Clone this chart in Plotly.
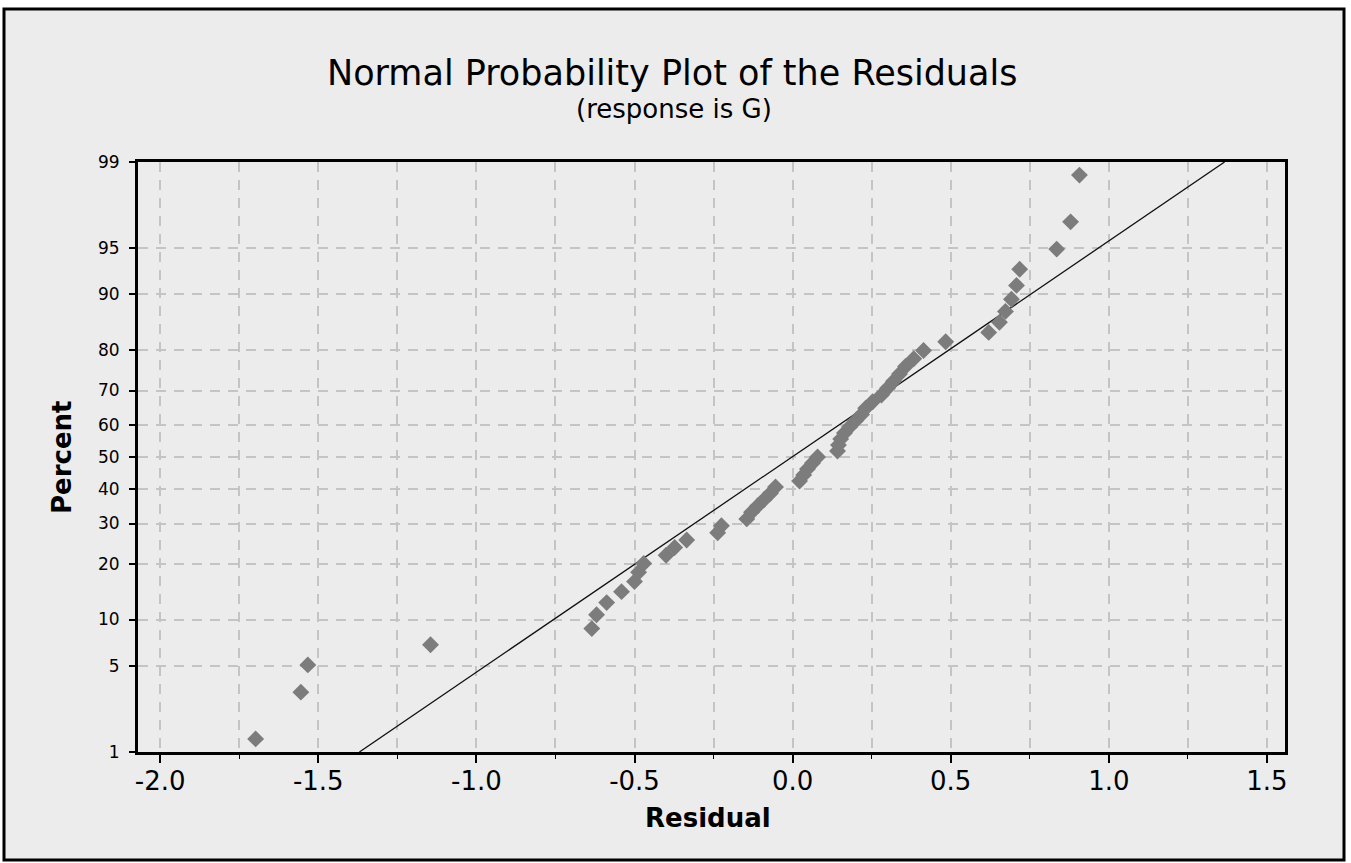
import plotly.graph_objects as go
from statistics import NormalDist

# Residuals, sorted ascending (n = 53)
residuals = [
    -1.698, -1.555, -1.533, -1.145,
    -0.635, -0.620, -0.588, -0.541, -0.500, -0.487, -0.471,
    -0.400, -0.373, -0.335,
    -0.237, -0.225,
    -0.145, -0.130, -0.110, -0.090, -0.070, -0.054,
    0.022, 0.035, 0.047, 0.063, 0.079,
    0.142, 0.145, 0.152, 0.164, 0.180, 0.199, 0.218, 0.231,
    0.253, 0.281, 0.300, 0.319, 0.338, 0.357, 0.383, 0.414,
    0.484, 0.620, 0.654, 0.673, 0.692, 0.708, 0.718,
    0.835, 0.879, 0.907,
]

# Fitted normal line (mean, std dev)
fit_mean = -0.002
fit_std = 0.588

percent_ticks = [1, 5, 10, 20, 30, 40, 50, 60, 70, 80, 90, 95, 99]
x_ticks = [-2.0, -1.5, -1.0, -0.5, 0.0, 0.5, 1.0, 1.5]

title_text = "Normal Probability Plot of the Residuals"
subtitle_text = "(response is G)"
x_title = "Residual"
y_title = "Percent"

nd = NormalDist()
n = len(residuals)
# Minitab plotting positions (i - 0.3) / (n + 0.4)
pct = [(i + 1 - 0.3) / (n + 0.4) for i in range(n)]
z_pts = [nd.inv_cdf(p) for p in pct]

z_lo = nd.inv_cdf(percent_ticks[0] / 100)
z_hi = nd.inv_cdf(percent_ticks[-1] / 100)
line_z = [z_lo + (z_hi - z_lo) * k / 50 for k in range(51)]
line_x = [fit_mean + fit_std * z for z in line_z]

FONT = "DejaVu Sans"

fig = go.Figure()
fig.add_trace(go.Scatter(
    x=line_x, y=line_z, mode="lines",
    line=dict(color="#111111", width=1.3),
    hoverinfo="skip", showlegend=False,
))
fig.add_trace(go.Scatter(
    x=residuals, y=z_pts, mode="markers",
    marker=dict(symbol="diamond", size=13, color="#7c7c7c",
                line=dict(width=0)),
    showlegend=False,
))

W, H = 1351, 863
L, R, T, B = 138, 1285, 162, 752
pw, ph = R - L, B - T


def px(xp):
    return (xp - L) / pw


def py(yp):
    return (B - yp) / ph


grid_col = "#c4c4c4"

fig.update_layout(
    width=W, height=H,
    margin=dict(l=L, r=W - R, t=T, b=H - B),
    paper_bgcolor="#ffffff",
    plot_bgcolor="#ffffff",
    font=dict(family=FONT, color="#000000"),
    xaxis=dict(
        range=[-2.07, 1.557],
        tickvals=x_ticks,
        ticktext=[f"{v:.1f}" for v in x_ticks],
        tickfont=dict(size=26),
        ticklabelstandoff=-4,
        ticks="outside", ticklen=8, tickwidth=2, tickcolor="#000000",
        showline=True, linecolor="#000000", linewidth=3, mirror=True,
        showgrid=True, gridcolor=grid_col, gridwidth=2, griddash="10px,8px",
        minor=dict(dtick=0.25, tick0=-2.0, ticks="outside", ticklen=4,
                   tickcolor="#000000", tickwidth=1,
                   showgrid=True, gridcolor=grid_col, gridwidth=2,
                   griddash="10px,8px"),
        zeroline=False,
    ),
    yaxis=dict(
        range=[z_lo, z_hi],
        tickvals=[nd.inv_cdf(p / 100) for p in percent_ticks],
        ticktext=[str(p) for p in percent_ticks],
        tickfont=dict(size=17),
        ticklabelstandoff=6,
        ticks="outside", ticklen=6, tickwidth=2, tickcolor="#000000",
        showline=True, linecolor="#000000", linewidth=3, mirror=True,
        showgrid=True, gridcolor=grid_col, gridwidth=2, griddash="10px,8px",
        zeroline=False,
    ),
    annotations=[
        dict(text=title_text, x=px(672), y=py(73), xref="paper", yref="paper",
             showarrow=False, xanchor="center", yanchor="middle",
             font=dict(size=35, family=FONT)),
        dict(text=subtitle_text, x=px(674), y=py(109), xref="paper", yref="paper",
             showarrow=False, xanchor="center", yanchor="middle",
             font=dict(size=26, family=FONT)),
        dict(text="<b>" + x_title + "</b>", x=px(708), y=py(818),
             xref="paper", yref="paper", showarrow=False,
             xanchor="center", yanchor="middle",
             font=dict(size=26, family=FONT)),
        dict(text="<b>" + y_title + "</b>", x=px(62), y=py(457),
             xref="paper", yref="paper", showarrow=False, textangle=-90,
             xanchor="center", yanchor="middle",
             font=dict(size=26, family=FONT)),
    ],
    shapes=[
        dict(type="rect", xref="paper", yref="paper", layer="below",
             x0=px(4), x1=px(1344), y0=py(860), y1=py(9),
             line=dict(color="#000000", width=3), fillcolor="#ececec"),
    ],
)

fig.write_html("out.html", config={"displayModeBar": False},
               post_script="document.body.style.margin='0';")
